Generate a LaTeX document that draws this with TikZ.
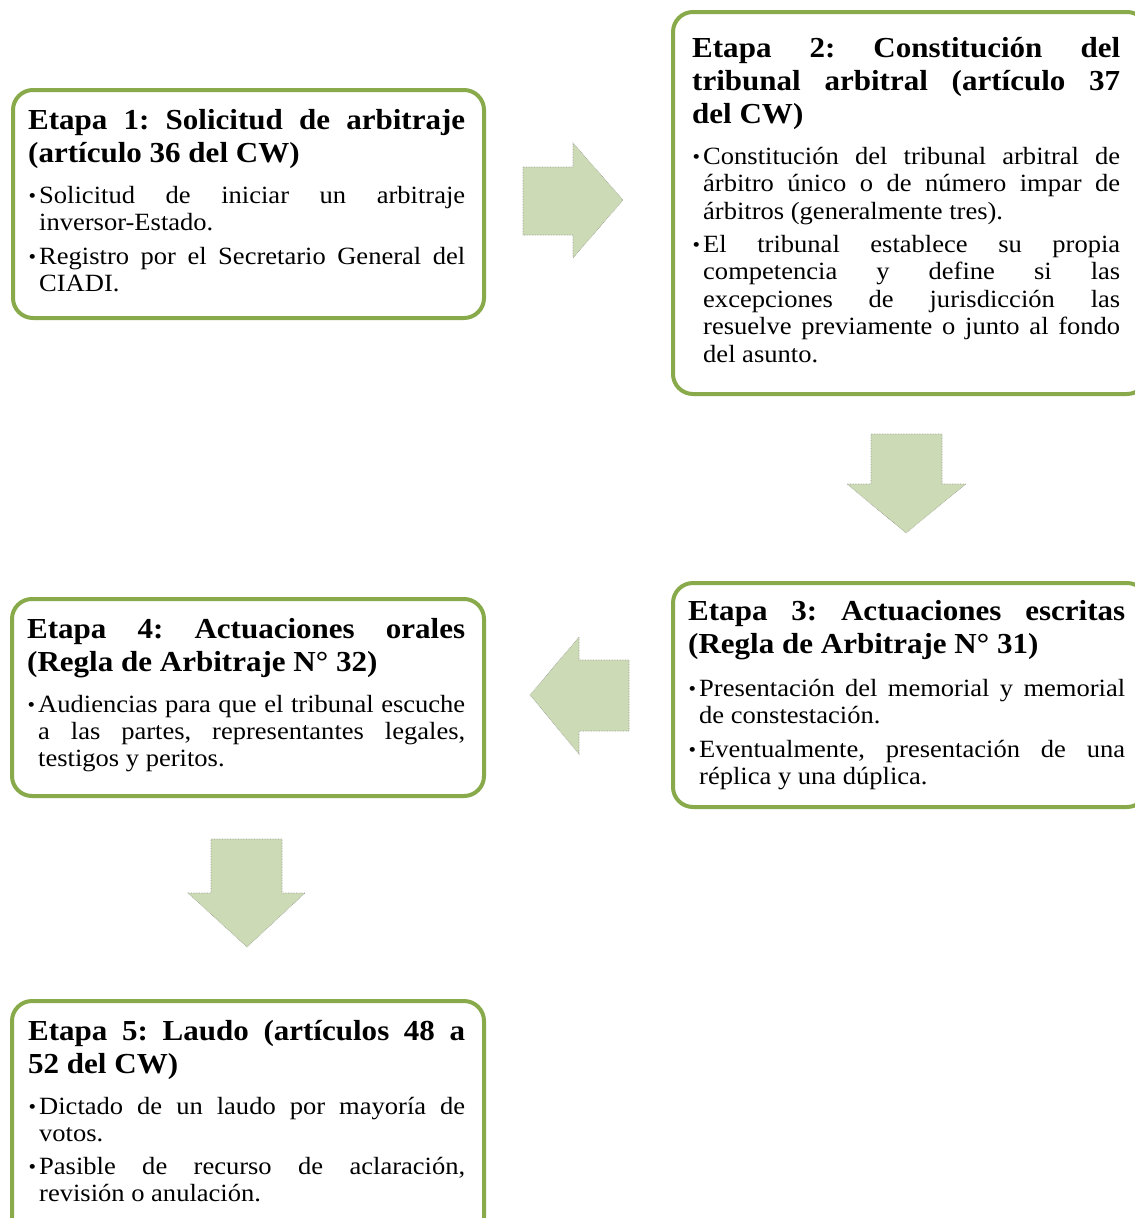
\documentclass[tikz,border=0pt]{standalone}
\usepackage{fontspec}
\setmainfont{Liberation Serif}[FakeStretch=1.07]
\frenchspacing
\definecolor{boxgreen}{RGB}{136,170,74}
\definecolor{arrowfill}{RGB}{204,218,181}
\definecolor{arrowline}{RGB}{150,155,145}
\newcommand\tfont{\fontsize{29pt}{33pt}\selectfont\bfseries}
\newcommand\bfnt{\fontsize{24.8pt}{27pt}\selectfont}
\newdimen\bind \bind=11pt
\newcommand\bul{\hbox to \bind{\hskip0.5pt\raisebox{0.5pt}{\fontsize{20pt}{20pt}\selectfont •}\hss}}
\newcommand\T[1]{\hbox to \hsize{\tfont #1}}
\newcommand\TL[1]{\hbox{\tfont #1}}
\newcommand\B[1]{\hbox to \hsize{\bfnt\bul\hbox to \dimexpr\hsize-\bind\relax{#1}}}
\newcommand\BL[1]{\hbox{\bfnt\bul #1}}
\newcommand\C[1]{\hbox to \hsize{\bfnt\hskip\bind\hbox to \dimexpr\hsize-\bind\relax{#1}}}
\newcommand\CL[1]{\hbox{\bfnt\hskip\bind #1}}
\newcommand\G[1]{\baselineskip=#1\relax}
\newcommand\blk[2]{\vtop{\hsize=#1\lineskiplimit=-1000pt\lineskip=0pt #2}}
\tikzset{
  stage/.style={draw=boxgreen, line width=4pt, rounded corners=20pt, fill=white,
    inner sep=0pt, anchor=north west},
  txt/.style={anchor=base west, inner sep=0pt, text=black},
  blockarrow/.style={fill=arrowfill, draw=arrowline, line width=0.6pt, densely dotted},
}
\begin{document}
\begin{tikzpicture}[x=1pt,y=-1pt]
\clip (0,0) rectangle (1135,1218);
\fill[white] (0,0) rectangle (1135,1218);
% boxes
\node[stage, minimum width=471pt, minimum height=228pt] (s1) at (11,88) {};
\node[stage, minimum width=474pt, minimum height=382pt] (s2) at (671,10) {};
\node[stage, minimum width=474pt, minimum height=224pt] (s3) at (671,581) {};
\node[stage, minimum width=472pt, minimum height=197pt] (s4) at (10,597) {};
\node[stage, minimum width=472pt, minimum height=240pt] (s5) at (10,999) {};
% texts
\node[txt] (t1) at (28,129) {\blk{437pt}{\G{33pt}%
  \T{Etapa 1: Solicitud de arbitraje}%
  \TL{(artículo 36 del CW)}%
  \G{41pt}\B{Solicitud de iniciar un arbitraje}%
  \G{27pt}\CL{inversor-Estado.}%
  \G{34pt}\B{Registro por el Secretario General del}%
  \G{27pt}\CL{CIADI.}}};
\node[txt] (t2) at (692,57) {\blk{428pt}{\G{33pt}%
  \T{Etapa 2: Constitución del}%
  \T{tribunal arbitral (artículo 37}%
  \TL{del CW)}%
  \G{41pt}\B{Constitución del tribunal arbitral de}%
  \G{27.5pt}\C{árbitro único o de número impar de}%
  \CL{árbitros (generalmente tres).}%
  \G{33pt}\B{El tribunal establece su propia}%
  \G{27.5pt}\C{competencia y define si las}%
  \C{excepciones de jurisdicción las}%
  \C{resuelve previamente o junto al fondo}%
  \CL{del asunto.}}};
\node[txt] (t3) at (688,620) {\blk{437pt}{\G{33pt}%
  \T{Etapa 3: Actuaciones escritas}%
  \TL{(Regla de Arbitraje N° 31)}%
  \G{43pt}\B{Presentación del memorial y memorial}%
  \G{27pt}\CL{de constestación.}%
  \G{34pt}\B{Eventualmente, presentación de una}%
  \G{27pt}\CL{réplica y una dúplica.}}};
\node[txt] (t4) at (27,638) {\blk{438pt}{\G{33pt}%
  \T{Etapa 4: Actuaciones orales}%
  \TL{(Regla de Arbitraje N° 32)}%
  \G{41pt}\B{Audiencias para que el tribunal escuche}%
  \G{27pt}\C{a las partes, representantes legales,}%
  \CL{testigos y peritos.}}};
\node[txt] (t5) at (28,1040) {\blk{437pt}{\G{33pt}%
  \T{Etapa 5: Laudo (artículos 48 a}%
  \TL{52 del CW)}%
  \G{41pt}\B{Dictado de un laudo por mayoría de}%
  \G{27pt}\CL{votos.}%
  \G{33pt}\B{Pasible de recurso de aclaración,}%
  \G{27pt}\CL{revisión o anulación.}}};
% block arrows
\draw[blockarrow] (523,167) -- (573,167) -- (573,143) -- (623,200) -- (573,258) -- (573,235) -- (523,235) -- cycle;
\draw[blockarrow] (871,434) -- (942,434) -- (942,484) -- (966,484) -- (906,533) -- (847,484) -- (871,484) -- cycle;
\draw[blockarrow] (629,660) -- (579,660) -- (579,637) -- (530,695) -- (579,754) -- (579,731) -- (629,731) -- cycle;
\draw[blockarrow] (211,839) -- (282,839) -- (282,893) -- (305,893) -- (247,947) -- (188,893) -- (211,893) -- cycle;
\end{tikzpicture}
\end{document}
